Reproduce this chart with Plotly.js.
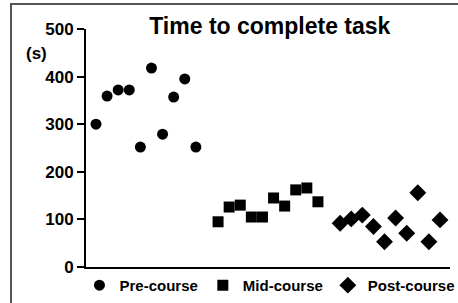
<!DOCTYPE html>
<html>
<head>
<meta charset="utf-8">
<script src="https://cdn.plot.ly/plotly-3.0.1.min.js"></script>
<style>
  html, body { margin: 0; padding: 0; background: #fff; }
  #wrap { position: relative; width: 458px; height: 303px; overflow: hidden; }
  #chart { position: absolute; left: 0; top: 0; width: 458px; height: 303px; }
  #frame { position: absolute; left: 10px; top: 3px; width: 460px; height: 310px;
           border-left: 2px solid #555; border-top: 2px solid #555; pointer-events: none; }
</style>
</head>
<body>
<div id="wrap"><div id="chart"></div><div id="frame"></div></div>
<script>
// Subject slots along the x axis
const preX  = [1, 2, 3, 4, 5, 6, 7, 8, 9, 10];
const midX  = [12, 13, 14, 15, 16, 17, 18, 19, 20, 21];
const postX = [23, 24, 25, 26, 27, 28, 29, 30, 31, 32];
// Time to complete task (s)
const preVals  = [300, 359, 372, 372, 252, 418, 279, 357, 395, 252];
const midVals  = [95, 126, 130, 105, 105, 145, 128, 162, 166, 137];
const postVals = [92, 101, 109, 85, 53, 103, 71, 156, 53, 99];
const seriesNames = ['Pre-course', 'Mid-course', 'Post-course'];
const titleText = 'Time to complete task';
const unitText = '(s)';
const yTicks = [0, 100, 200, 300, 400, 500];

const font = 'Liberation Sans, Arial, sans-serif';
const traces = [
  {x: preX, y: preVals, name: seriesNames[0], type: 'scatter', mode: 'markers',
   marker: {symbol: 'circle', size: 11, color: '#000'}},
  {x: midX, y: midVals, name: seriesNames[1], type: 'scatter', mode: 'markers',
   marker: {symbol: 'square', size: 11, color: '#000'}},
  {x: postX, y: postVals, name: seriesNames[2], type: 'scatter', mode: 'markers',
   marker: {symbol: 'diamond', size: 13, color: '#000'}}
];
const layout = {
  width: 458, height: 303,
  margin: {l: 86, r: 8, t: 29, b: 36, pad: 0, autoexpand: false},
  paper_bgcolor: '#fff', plot_bgcolor: '#fff',
  font: {family: font, color: '#000'},
  title: {text: titleText, font: {family: font, size: 23, weight: 'bold', color: '#000'},
          x: 0.505, xref: 'paper', xanchor: 'center', y: 0.915, yref: 'container', yanchor: 'middle'},
  xaxis: {range: [0.1, 32.9], showline: true, linewidth: 2, linecolor: '#000',
          showgrid: false, zeroline: false, showticklabels: false, ticks: ''},
  yaxis: {range: [0, 500], tickvals: yTicks, ticktext: yTicks.map(String),
          showline: true, linewidth: 2, linecolor: '#000', showgrid: false, zeroline: false,
          ticks: 'outside', ticklen: 7, tickwidth: 2, tickcolor: '#000',
          tickfont: {family: font, size: 17, weight: 'bold', color: '#000'}},
  showlegend: true,
  legend: {orientation: 'h', x: -0.018, xanchor: 'left', y: -0.008, yanchor: 'top',
           font: {family: font, size: 15, weight: 'bold', color: '#000'},
           itemwidth: 30, bgcolor: 'rgba(0,0,0,0)', tracegroupgap: 0},
  annotations: [
    {text: unitText, xref: 'paper', yref: 'paper', x: -0.137, y: 0.899,
     xanchor: 'center', yanchor: 'middle', showarrow: false,
     font: {family: font, size: 17, weight: 'bold', color: '#000'}}
  ]
};
Plotly.newPlot('chart', traces, layout, {displayModeBar: false, staticPlot: true});
</script>
</body>
</html>
